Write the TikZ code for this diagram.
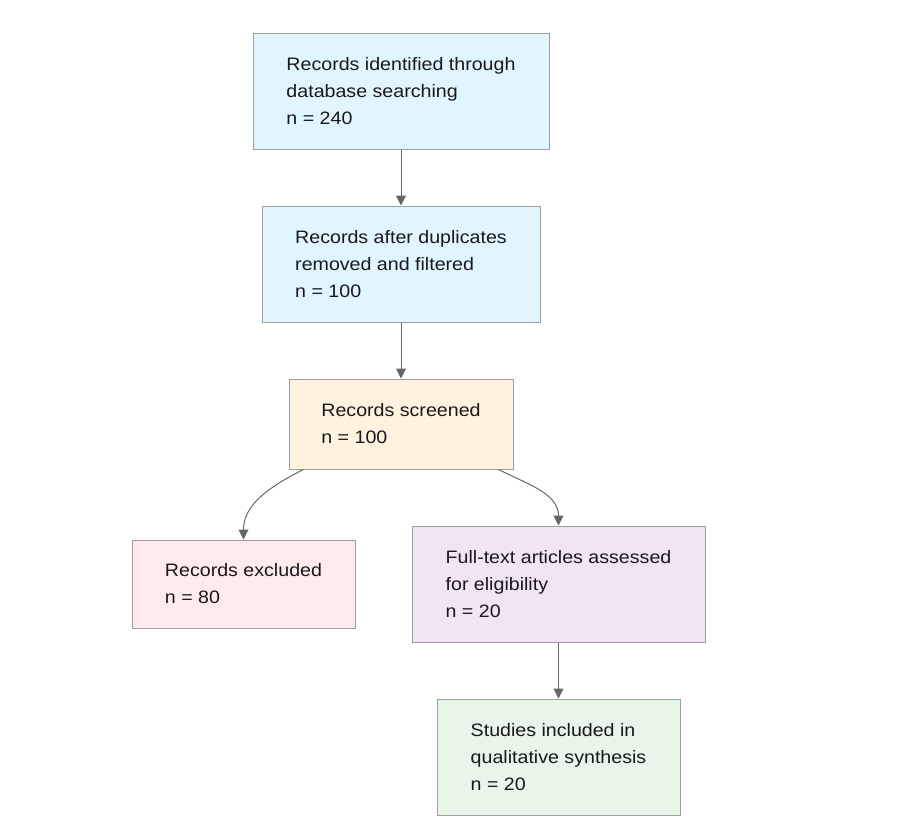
\documentclass[tikz,border=0pt]{standalone}
\usepackage{fontspec}
\setmainfont[FakeStretch=1.09]{Liberation Sans}
\usepackage{xcolor}
\usetikzlibrary{arrows.meta}
\definecolor{pr blue}{HTML}{E1F5FE}
\definecolor{pr orange}{HTML}{FFF3E0}
\definecolor{pr pink}{HTML}{FFEBEE}
\definecolor{pr purple}{HTML}{F1E4F5}
\definecolor{pr green}{HTML}{E8F5E9}
\definecolor{pr edge}{HTML}{9E9E9E}
\definecolor{pr line}{HTML}{666666}
\tikzset{
  pr box/.style={
    rectangle,
    draw=pr edge,
    line width=1pt,
    inner xsep=0pt,
    inner ysep=0pt,
    align=left,
    font=\fontsize{18}{27}\selectfont,
    text=black!90,
  },
  pr arrow/.style={-{Triangle[length=10pt,width=10pt]}, line width=1pt, draw=pr line},
}

\begin{document}
\begin{tikzpicture}[x=1pt,y=-1pt]
  \useasboundingbox (0,0) rectangle (898,836);
  \node[pr box,fill=pr blue,minimum width=296pt,minimum height=116pt]
    (ident) at (401,91) {Records identified through\\database searching\\n = 240};
  \node[pr box,fill=pr blue,minimum width=278pt,minimum height=116pt]
    (dedup) at (401,264) {Records after duplicates\\removed and filtered\\n = 100};
  \node[pr box,fill=pr orange,minimum width=224pt,minimum height=90pt]
    (screen) at (401,424) {Records screened\\n = 100};
  \node[pr box,fill=pr pink,minimum width=223pt,minimum height=88pt]
    (excl) at (243.5,584) {Records excluded\\n = 80};
  \node[pr box,fill=pr purple,minimum width=293pt,minimum height=116pt]
    (full) at (558.5,584) {Full-text articles assessed\\for eligibility\\n = 20};
  \node[pr box,fill=pr green,minimum width=243pt,minimum height=116pt]
    (incl) at (558.5,757) {Studies included in\\qualitative synthesis\\n = 20};

  \draw[pr arrow] (ident) -- (dedup);
  \draw[pr arrow] (dedup) -- (screen);
  \draw[pr arrow] (screen.205) to[out=-153,in=90] (excl.north);
  \draw[pr arrow] (screen.-25) to[out=-27,in=90] (full.north);
  \draw[pr arrow] (full) -- (incl);
\end{tikzpicture}
\end{document}
